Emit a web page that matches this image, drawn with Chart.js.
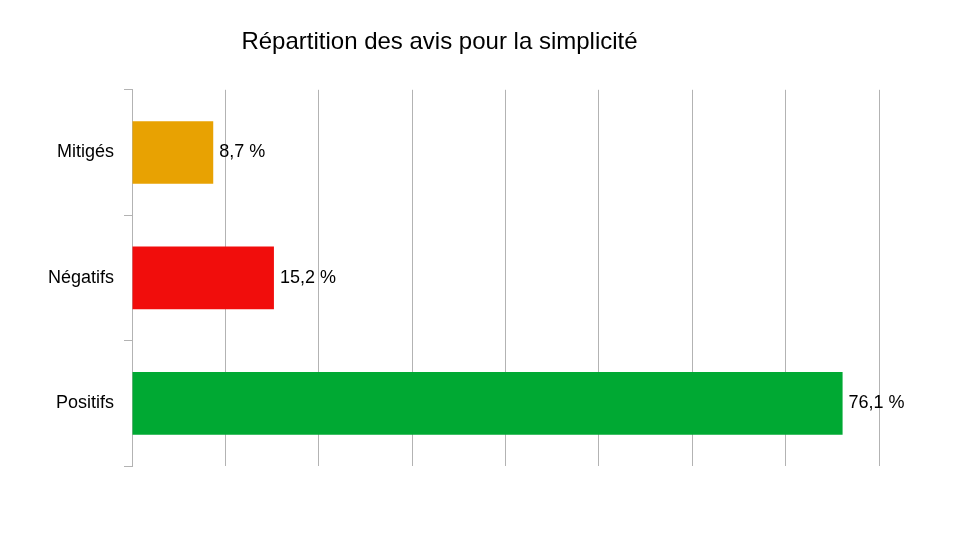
<!DOCTYPE html>
<html><head><meta charset="utf-8">
<script src="https://cdn.jsdelivr.net/npm/chart.js@4/dist/chart.umd.min.js"></script>
<style>html,body{margin:0;padding:0;background:#fff}#c{display:block}</style>
</head><body>
<div style="width:965px;height:543px"><canvas id="c"></canvas></div>
<script>
const categories = ["Mitigés", "Négatifs", "Positifs"];
const values = [8.7, 15.2, 76.1];
const colors = ["#e8a202", "#f10d0c", "#00a933"];
const fmt = v => v.toFixed(1).replace('.', ',') + ' %';

const labelPlugin = {
  id: 'lbl',
  afterDatasetsDraw(chart) {
    const ctx = chart.ctx;
    const meta = chart.getDatasetMeta(0);
    ctx.save();
    ctx.font = '18px "Liberation Sans", Arial, sans-serif';
    ctx.fillStyle = '#000';
    ctx.textBaseline = 'middle';
    meta.data.forEach((b, i) => ctx.fillText(fmt(values[i]), b.x + 6, b.y));
    ctx.restore();
  }
};

new Chart(document.getElementById('c'), {
  type: 'bar',
  data: { labels: categories, datasets: [{ data: values, backgroundColor: colors, barPercentage: 0.5, categoryPercentage: 1 }] },
  options: {
    indexAxis: 'y', responsive: true, maintainAspectRatio: false, animation: false,
    layout: { padding: { left: 0, right: 86, bottom: 77, top: 0 } },
    plugins: {
      legend: { display: false }, tooltip: { enabled: false },
      title: { display: true, text: 'Répartition des avis pour la simplicité', color: '#000',
        font: { family: '"Liberation Sans", Arial, sans-serif', size: 24, weight: 'normal' },
        padding: { top: 28, bottom: 33 } }
    },
    scales: {
      x: { min: 0, max: 80, ticks: { display: false, stepSize: 10 },
        grid: { color: '#b3b3b3', drawTicks: false }, border: { display: false },
        afterFit(s) { s.height = 0; } },
      y: { ticks: { color: '#000', font: { family: '"Liberation Sans", Arial, sans-serif', size: 18 }, padding: 10 },
        grid: { offset: true, drawOnChartArea: false, color: '#b3b3b3', tickLength: 8 },
        border: { color: '#b3b3b3' },
        afterFit(s) { s.width = 132; } }
    }
  },
  plugins: [labelPlugin]
});
</script>
</body></html>
